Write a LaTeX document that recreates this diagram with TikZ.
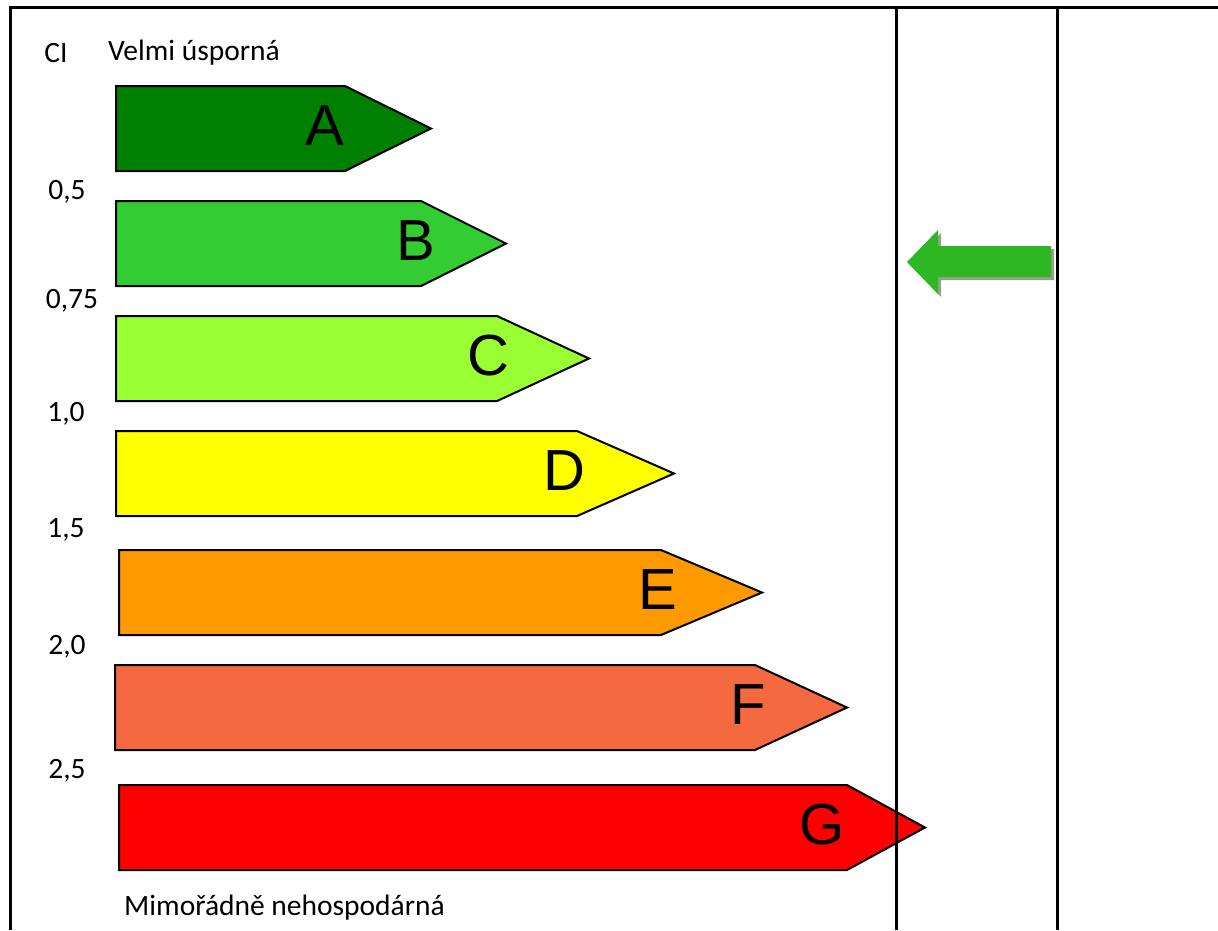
\documentclass[tikz,border=0pt]{standalone}
\usepackage{fontspec}
\setmainfont{Carlito}
\newfontfamily\letterfont{Liberation Sans}
\definecolor{clsA}{HTML}{008000}
\definecolor{clsB}{HTML}{33CC33}
\definecolor{clsC}{HTML}{99FF33}
\definecolor{clsD}{HTML}{FFFF00}
\definecolor{clsE}{HTML}{FF9900}
\definecolor{clsF}{HTML}{F4693F}
\definecolor{clsG}{HTML}{FF0000}
\definecolor{markgreen}{HTML}{2DB823}
\definecolor{markshade}{HTML}{93A38A}
\begin{document}
\begin{tikzpicture}[x=1pt,y=-1pt,
  classbar/.style={draw=black,line width=2pt,line join=miter},
  classletter/.style={font=\letterfont\fontsize{58}{58}\selectfont,inner sep=0pt},
  scalelabel/.style={font=\fontsize{29.5}{29.5}\selectfont,inner sep=0pt},
  gridline/.style={line width=3pt}]
\useasboundingbox (0,0) rectangle (1218,930);
\fill[white] (0,0) rectangle (1218,930);

% energy classes: left, top, bottom, end of body, tip, colour, letter, letter x
\foreach \l/\t/\b/\e/\p/\c/\L/\lx in {
  116/86/171/345/431/clsA/A/325,
  116/201/286/421/506/clsB/B/416,
  116/316/401/497/589/clsC/C/488,
  116/431/516/577/674/clsD/D/564,
  119/550/635/661/762/clsE/E/658,
  115/665/750/755/847/clsF/F/748,
  119/785/870/847/925/clsG/G/822}{
  \path[classbar,fill=\c] (\l,\t) -- (\e,\t) -- (\p,{(\t+\b)/2}) -- (\e,\b) -- (\l,\b) -- cycle;
  \node[classletter] (letter\L) at (\lx,{(\t+\b)/2-3}) {\L};
}

% headings and scale values
\node[scalelabel] (ci) at (56,53) {CI};
\node[scalelabel,anchor=west] (best) at (108,53) {Velmi úsporná};
\node[scalelabel] (v05) at (67,192) {0,5};
\node[scalelabel] (v075) at (72,301) {0,75};
\node[scalelabel] (v10) at (66,414) {1,0};
\node[scalelabel] (v15) at (66,530) {1,5};
\node[scalelabel] (v20) at (67,647) {2,0};
\node[scalelabel] (v25) at (67,771) {2,5};
\node[scalelabel,anchor=west] (worst) at (124,908) {Mimořádně nehospodárná};

% table rules
\draw[gridline] (10,930) -- (10,7) -- (1218,7);
\draw[gridline] (896,7) -- (896,930);
\draw[gridline] (1057,7) -- (1057,930);

% rating marker with soft shadow
\fill[markshade] (910,265) -- (941,233) -- (941,249) -- (1054,249) -- (1054,280) -- (941,280) -- (941,297) -- cycle;
\fill[markgreen] (907,262) -- (938,230) -- (938,246) -- (1051,246) -- (1051,277) -- (938,277) -- (938,294) -- cycle;
\end{tikzpicture}
\end{document}
